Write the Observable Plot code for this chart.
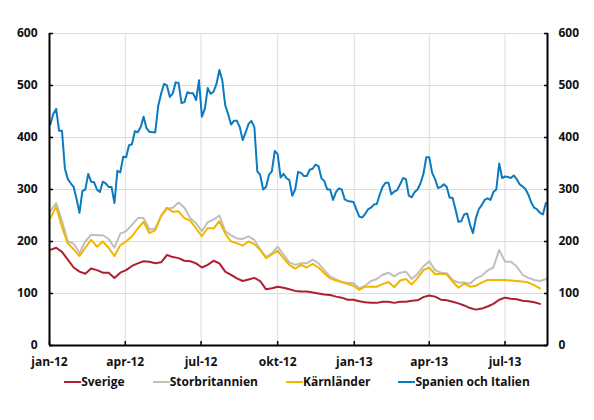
<!DOCTYPE html>
<html><head><meta charset="utf-8">
<script src="https://cdn.jsdelivr.net/npm/d3@7"></script>
<script src="https://cdn.jsdelivr.net/npm/@observablehq/plot@0.6"></script>
<style>
body{margin:0;background:#fff;font-family:"Open Sans",sans-serif;}
#legend{display:flex;justify-content:center;gap:28px;font-weight:700;font-size:12px;line-height:20px;color:#111;width:594px;}
.item{display:flex;align-items:center;}
.sw{width:17px;height:2.5px;}
</style></head><body><div id="chart"></div><div id="legend"></div>
<script>
const firstWeek = "2012-01-02";
const seriesNames = ["Sverige", "Storbritannien", "Kärnländer", "Spanien och Italien"];
const seriesColors = ["#ae1f2f", "#bfbfbf", "#f2b600", "#0a7bc1"];
// weekly readings
const sverige = [184,188,180,165,150,142,138,148,145,140,140,130,140,145,153,158,162,161,
158,160,174,170,168,163,162,158,150,155,163,158,142,136,129,124,127,
130,124,108,110,113,111,108,105,104,104,102,100,98,97,94,92,88,
88,85,83,82,82,84,84,82,84,84,86,87,93,96,94,88,87,
84,81,77,72,69,71,75,80,88,92,90,89,86,85,83,80,null];
const storbritannien = [258,274,240,200,196,178,200,213,212,212,205,188,215,220,232,245,245,223,
225,248,263,265,275,265,245,235,220,237,242,250,220,212,206,205,210,
203,185,170,177,190,175,160,155,158,158,165,158,145,133,127,122,120,
120,110,115,124,128,136,140,133,140,142,128,138,152,162,145,140,139,
126,121,121,119,129,134,144,150,184,161,161,152,136,130,126,124,128];
const karnlander = [245,267,228,196,185,172,188,203,190,200,188,172,193,200,210,225,238,216,
222,250,265,257,258,245,240,225,210,226,225,239,215,200,197,192,200,
195,184,168,175,182,168,155,148,155,150,157,150,139,129,125,122,118,
115,107,113,113,113,118,122,112,125,128,117,130,145,150,137,138,137,
123,111,119,113,115,121,126,126,126,126,125,124,123,121,116,110,null];
// half-weekly readings
const spanienItalien = [425,445,455,413,413,340,320,312,305,282,255,297,300,330,315,314,300,295,315,312,
305,305,274,336,333,363,362,385,387,412,410,420,440,418,411,410,410,460,484,503,
500,478,485,506,505,466,468,487,485,485,472,510,440,455,495,484,488,503,530,510,
462,445,425,432,432,420,395,410,426,432,420,335,328,300,305,328,335,374,368,323,
330,322,318,288,300,334,332,326,326,338,340,348,345,322,316,300,300,280,295,302,
300,281,278,277,276,262,248,246,253,262,265,271,272,290,305,313,313,291,296,299,
310,322,320,288,285,295,300,312,330,362,362,332,320,303,305,310,305,284,284,262,
238,239,252,254,232,216,245,262,270,280,283,280,295,300,350,322,325,324,322,327,
320,310,306,301,290,275,265,262,255,252,274];
const yTicks = [0, 100, 200, 300, 400, 500, 600];
const xTickDates = ["2012-01-01","2012-04-01","2012-07-01","2012-10-01","2013-01-01","2013-04-01","2013-07-01"];
const xTickLabels = ["jan-12","apr-12","jul-12","okt-12","jan-13","apr-13","jul-13"];
const xDomain = [new Date("2012-01-01"), new Date("2013-08-21")];

const start = new Date(firstWeek);
const rows = [];
[sverige, storbritannien, karnlander].forEach((vals, s) => vals.forEach((v, i) => {
  if (v != null) rows.push({date: d3.utcHour.offset(start, 168 * i), value: v, series: seriesNames[s]});
}));
spanienItalien.forEach((v, i) => {
  if (v != null) rows.push({date: d3.utcHour.offset(start, 84 * i), value: v, series: seriesNames[3]});
});
const xTicks = xTickDates.map(d => new Date(d));
const labelOf = d => xTickLabels[xTicks.findIndex(t => +t === +d)];
const blank = () => "";

const plot = Plot.plot({
  width: 594, height: 372,
  marginLeft: 49, marginRight: 47, marginTop: 33, marginBottom: 27,
  x: {type: "utc", domain: xDomain, label: null},
  y: {domain: [0, 600], label: null},
  color: {domain: seriesNames, range: seriesColors},
  style: {fontFamily: "Open Sans", fontSize: "12px", fontWeight: 700, color: "#111", background: "#fff"},
  marks: [
    Plot.gridY(yTicks, {stroke: "#dcdcdc", strokeOpacity: 1}),
    Plot.gridX(xTicks, {stroke: "#dcdcdc", strokeOpacity: 1}),
    Plot.lineY(rows, {x: "date", y: "value", z: "series", stroke: "series", strokeWidth: 2}),
    Plot.ruleX(xDomain, {stroke: "#000", strokeWidth: 2}),
    Plot.ruleY([0], {stroke: "#000", strokeWidth: 2}),
    Plot.axisY(yTicks, {anchor: "left", tickSize: 4, dx: 4, tickFormat: blank, label: null, stroke: "#000", strokeWidth: 1.5}),
    Plot.axisY(yTicks, {anchor: "right", tickSize: 4, dx: -4, tickFormat: blank, label: null, stroke: "#000", strokeWidth: 1.5}),
    Plot.axisX(xTicks, {anchor: "bottom", tickSize: 4, dy: -4, tickFormat: blank, label: null, stroke: "#000", strokeWidth: 1.5}),
    Plot.axisY(yTicks, {anchor: "left", tickSize: 0, tickPadding: 12, label: null}),
    Plot.axisY(yTicks, {anchor: "right", tickSize: 0, tickPadding: 11, label: null}),
    Plot.axisX(xTicks, {anchor: "bottom", tickSize: 0, tickPadding: 12, tickFormat: labelOf, label: null})
  ]
});
document.getElementById("chart").append(plot);

const legend = document.getElementById("legend");
seriesNames.forEach((n, i) => {
  const it = document.createElement("div");
  it.className = "item";
  const sw = document.createElement("span");
  sw.className = "sw";
  sw.style.background = seriesColors[i];
  const t = document.createElement("span");
  t.textContent = n;
  it.append(sw, t);
  legend.append(it);
});
</script></body></html>
